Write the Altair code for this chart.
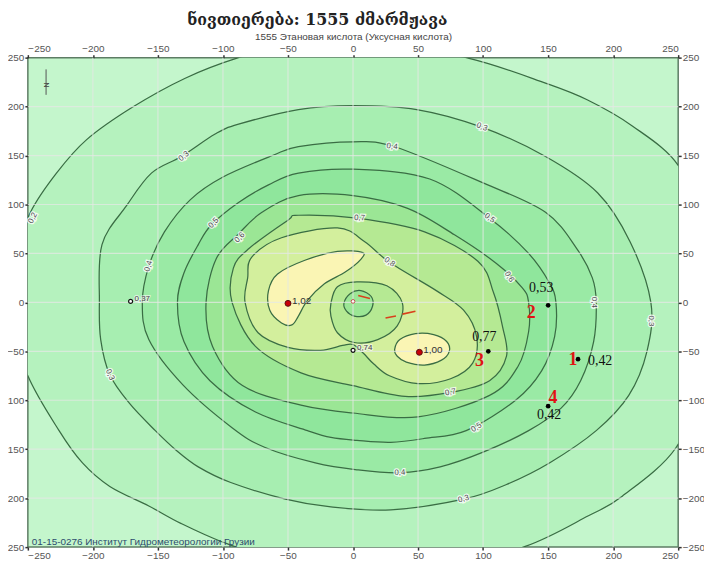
import altair as alt
import pandas as pd

# ---------------- data ----------------
TICKS = [-250, -200, -150, -100, -50, 0, 50, 100, 150, 200, 250]

# contour polylines (closed), data units
C02 = [(-50, 262), (-88, 250), (-129, 229), (-170, 199), (-205, 166), (-228, 132), (-248, 92),
       (-262, 40), (-265, -10), (-250, -75), (-226, -131), (-208, -164), (-187, -188), (-157, -208),
       (-132, -226), (-100, -245), (-60, -262), (0, -275), (70, -270), (133, -249), (181, -218),
       (207, -198), (248, -149), (268, -80), (272, 0), (265, 80), (250, 140), (215, 180),
       (180, 207), (148, 224), (90, 249), (20, 265)]
C03 = [(0, 201), (49, 197), (99, 179), (148, 149), (188, 112), (213, 62), (229, 0), (226, -50),
       (212, -95), (187, -131), (151, -164), (118, -186), (85, -201), (29, -212), (-17, -209),
       (-52, -201), (-94, -184), (-119, -168), (-136, -151), (-152, -131), (-172, -103),
       (-187, -74), (-194, -38), (-195, 0), (-193, 59), (-174, 99), (-155, 132), (-132, 149),
       (-106, 172), (-88, 182), (-42, 197)]
C04 = [(0, 164), (32, 159), (100, 122), (148, 92), (172, 55), (184, 25), (187, 0), (185, -40),
       (175, -80), (160, -108), (135, -131), (100, -153), (67, -168), (36, -174), (3, -171),
       (-29, -164), (-68, -148), (-93, -128), (-131, -84), (-157, -38), (-162, 0), (-157, 37),
       (-145, 72), (-125, 105), (-100, 128), (-62, 150), (-42, 159)]
C05 = [(0, 136), (59, 126), (105, 86), (135, 50), (151, 20), (156, 0), (155, -35), (145, -70),
       (125, -100), (87, -131), (55, -139), (29, -143), (3, -141), (-17, -138), (-35, -131),
       (-75, -112), (-110, -80), (-130, -40), (-135, 0), (-130, 30), (-119, 59), (-109, 79),
       (-88, 102), (-65, 120), (-42, 132)]
C06 = [(0, 109), (42, 96), (78, 69), (110, 40), (130, 15), (135, 0), (135, -30), (127, -65),
       (105, -95), (50, -117), (0, -113), (-40, -105), (-85, -85), (-108, -45), (-113, 0),
       (-105, 45), (-88, 70), (-70, 92), (-42, 109)]
C07 = [(3, 86), (55, 72), (96, 42), (108, 10), (115, -25), (118, -55), (105, -80), (75, -92),
       (40, -96), (0, -85), (-40, -72), (-75, -45), (-93, 0), (-92, 35), (-80, 55), (-50, 84),
       (-42, 89)]
C08 = [(-12, 76), (9, 62), (28, 41), (64, 12), (85, -8), (95, -35), (92, -62), (75, -78),
       (50, -83), (28, -75), (16, -63), (8, -52), (0, -43), (-8, -44), (-25, -49), (-50, -46),
       (-73, -31), (-83, 0), (-81, 25), (-78, 46), (-55, 66)]
C09A = [(7, 51), (-12, 52), (-37, 43), (-58, 29), (-65, 12), (-64, -8), (-55, -21), (-47, -23),
        (-42, -14), (-35, 2), (-22, 19), (-6, 31), (6, 44)]
C09B = [(32, -48), (36, -38), (48, -32), (62, -33), (72, -40), (74, -50), (68, -59), (55, -64),
        (41, -61), (34, -55)]
HOLE08 = [(-17, -1), (-12, 16), (3, 21), (26, 17), (38, -1), (34, -24), (19, -38), (1, -41),
          (-12, -31), (-17, -14)]
HOLE07 = [(-7, -1), (-2, 9), (6, 12), (14, 6), (15, -4), (10, -13), (1, -14), (-5, -9)]

# contour labels: text, x, y, angle
CL_TEXT = ["0,2", "0,3", "0,3", "0,4", "0,5", "0,6", "0,4", "0,3", "0,5", "0,7", "0,8",
           "0,6", "0,4", "0,3", "0,7", "0,5", "0,4", "0,3"]
CL_X = [-246, -130, -187, -157, -107, -87, 30, 99, 105, 5, 28, 120, 185, 229, 75, 95, 36, 85]
CL_Y = [86, 149, -74, 37, 81, 66, 159, 179, 86, 86, 41, 26, 0, -19, -92, -128, -174, -201]
CL_A = [297, 321, 66, 287, 313, 314, 7, 20, 37, 3, 35, 60, 90, 90, 349, 328, 358, 345]

# measurement points
PT_X = [150, 104, 173, 150]
PT_Y = [-3, -50, -58, -106]
PT_VAL = ["0,53", "0,77", "0,42", "0,42"]
PT_NUM = ["2", "3", "1", "4"]

PEAK_X = [-50, 51]
PEAK_Y = [-1, -51]
PEAK_VAL = ["1,02", "1,00"]

OPEN_X = [-171, 0]
OPEN_Y = [1, -49]
OPEN_VAL = ["0,37", "0,74"]

ORIGIN_X = [0]
ORIGIN_Y = [1]

# small red strokes near the centre
SEG_X = [4, 25, 38]
SEG_Y = [7, -16, -12]
SEG_X2 = [13, 33, 48]
SEG_Y2 = [4, -14, -9]

TITLE = "ნივთიერება: 1555  ძმარმჟავა"
SUBTITLE = "1555 Этановая кислота (Уксусная кислота)"
FOOTER = "01-15-0276 Институт Гидрометеорологии Грузии"

# ---------------- styling ----------------
BG = "#c4f6cc"
LINE = "#3a6d44"
POLYS = [
    (C02, "#b5f2be"),
    (C03, "#a7eeb1"),
    (C04, "#9aeaa5"),
    (C05, "#8fe69c"),
    (C06, "#9be695"),
    (C07, "#b5e993"),
    (C08, "#d3ef9d"),
    (C09A, "#faf5b4"),
    (C09B, "#faf5b4"),
    (HOLE08, "#b5e993"),
    (HOLE07, "#9be695"),
]

W, H = 655, 493
xs = alt.Scale(domain=[-250, 250], nice=False, zero=False)
ys = alt.Scale(domain=[-250, 250], nice=False, zero=False)


def X(f):
    return alt.X(f, type="quantitative", scale=xs, axis=None)


def Y(f):
    return alt.Y(f, type="quantitative", scale=ys, axis=None)


layers = []
for pts, col in POLYS:
    df = pd.DataFrame({"i": list(range(len(pts))),
                       "x": [p[0] for p in pts],
                       "y": [p[1] for p in pts]})
    layers.append(
        alt.Chart(df).mark_line(interpolate="cardinal-closed", fill=col, stroke=LINE,
                                strokeWidth=1.25, clip=True)
        .encode(x=X("x"), y=Y("y"), order=alt.Order("i:Q"))
    )

tick_df = pd.DataFrame({"t": TICKS})
inner_df = pd.DataFrame({"t": TICKS[1:-1]})
layers.append(alt.Chart(inner_df).mark_rule(color="#e4e8e4", strokeWidth=1.2, opacity=0.75)
              .encode(x=X("t")))
layers.append(alt.Chart(inner_df).mark_rule(color="#e4e8e4", strokeWidth=1.2, opacity=0.75)
              .encode(y=Y("t")))

# red strokes
seg_df = pd.DataFrame({"x": SEG_X, "y": SEG_Y, "x2": SEG_X2, "y2": SEG_Y2})
layers.append(alt.Chart(seg_df).mark_rule(color="#d9401c", strokeWidth=1.6)
              .encode(x=X("x"), y=Y("y"), x2="x2:Q", y2="y2:Q"))

# contour labels (halo + text)
cl_df = pd.DataFrame({"t": CL_TEXT, "x": CL_X, "y": CL_Y, "a": CL_A})
layers.append(alt.Chart(cl_df).mark_text(fontSize=8, font="Liberation Sans", color="white",
                                         stroke="white", strokeWidth=2.5, strokeOpacity=0.8)
              .encode(x=X("x"), y=Y("y"), text="t:N", angle=alt.Angle("a:Q", scale=None)))
layers.append(alt.Chart(cl_df).mark_text(fontSize=8, font="Liberation Sans", color="#4a4a4a")
              .encode(x=X("x"), y=Y("y"), text="t:N", angle=alt.Angle("a:Q", scale=None)))

# points
pt_df = pd.DataFrame({"x": PT_X, "y": PT_Y, "v": PT_VAL, "n": PT_NUM})
layers.append(alt.Chart(pt_df).mark_circle(color="black", size=22, opacity=1)
              .encode(x=X("x"), y=Y("y")))
pk_df = pd.DataFrame({"x": PEAK_X, "y": PEAK_Y, "v": PEAK_VAL})
layers.append(alt.Chart(pk_df).mark_point(filled=True, fill="#c8000a", stroke="#5a1010",
                                          strokeWidth=1, size=36, opacity=1)
              .encode(x=X("x"), y=Y("y")))
op_df = pd.DataFrame({"x": OPEN_X, "y": OPEN_Y, "v": OPEN_VAL})
layers.append(alt.Chart(op_df).mark_point(fill="white", stroke="#111", strokeWidth=1.2,
                                          size=16, opacity=1)
              .encode(x=X("x"), y=Y("y")))
org_df = pd.DataFrame({"x": ORIGIN_X, "y": ORIGIN_Y})
layers.append(alt.Chart(org_df).mark_point(fill="white", stroke="#c05050", strokeWidth=1,
                                           size=14, opacity=1)
              .encode(x=X("x"), y=Y("y")))

# value labels of measurement points
val_offsets = [(-7, -17, "center"), (-4, -14, "center"), (10, 2, "left"), (1, 9, "center")]
num_offsets = [(-17, 8), (-9, 10), (-5, 1), (5, -8)]
for k in range(len(PT_X)):
    one = pt_df.iloc[[k]]
    dx, dy, al = val_offsets[k]
    layers.append(alt.Chart(one).mark_text(font="Liberation Serif", fontSize=14, color="#111",
                                           dx=dx, dy=dy, align=al)
                  .encode(x=X("x"), y=Y("y"), text="v:N"))
    ndx, ndy = num_offsets[k]
    layers.append(alt.Chart(one).mark_text(font="Liberation Serif", fontSize=18,
                                           fontWeight="bold", color="#e01414",
                                           dx=ndx, dy=ndy)
                  .encode(x=X("x"), y=Y("y"), text="n:N"))

layers.append(alt.Chart(pk_df).mark_text(font="Liberation Sans", fontSize=10, color="#333",
                                         align="left", dx=4, dy=-2)
              .encode(x=X("x"), y=Y("y"), text="v:N"))
layers.append(alt.Chart(op_df).mark_text(font="Liberation Sans", fontSize=8, color="#555",
                                         align="left", dx=4, dy=-2, stroke="white",
                                         strokeWidth=2, strokeOpacity=0.6)
              .encode(x=X("x"), y=Y("y"), text="v:N"))
layers.append(alt.Chart(op_df).mark_text(font="Liberation Sans", fontSize=8, color="#555",
                                         align="left", dx=4, dy=-2)
              .encode(x=X("x"), y=Y("y"), text="v:N"))

# footer text inside the plot
layers.append(alt.Chart(pd.DataFrame({"x": [-250], "y": [-250], "t": [FOOTER]}))
              .mark_text(font="Liberation Sans", fontSize=10, color="#2d4c6e", align="left",
                         baseline="bottom", dx=4, dy=0)
              .encode(x=X("x"), y=Y("y"), text="t:N"))

# small north sign
layers.append(alt.Chart(pd.DataFrame({"x": [-236], "y": [238], "y2": [212]}))
              .mark_rule(color="#555", strokeWidth=1)
              .encode(x=X("x"), y=Y("y"), y2="y2:Q"))
layers.append(alt.Chart(pd.DataFrame({"x": [-236], "y": [222], "t": ["N"]}))
              .mark_text(font="Liberation Sans", fontSize=7, color="#444", angle=90)
              .encode(x=X("x"), y=Y("y"), text="t:N"))

# axes: bottom/left and top/right
ax_common = dict(values=TICKS, grid=False, domain=False, tickSize=3, tickColor="#333",
                 tickWidth=1.5, labelFontSize=10, labelColor="#555", labelFont="Liberation Sans")
layers.append(alt.Chart(tick_df).mark_point(opacity=0).encode(
    x=alt.X("t:Q", scale=xs, axis=alt.Axis(orient="bottom", title=None, labelPadding=0,
                                           **ax_common)),
    y=alt.Y("t:Q", scale=ys, axis=alt.Axis(
        orient="left", title=None, labelPadding=1,
        labelExpr="datum.value <= -100 ? '' + abs(datum.value) : datum.label", **ax_common)),
))
layers.append(alt.Chart(tick_df).mark_point(opacity=0).encode(
    x=alt.X("t:Q", scale=xs, axis=alt.Axis(orient="top", title=SUBTITLE, titleFontSize=10,
                                           titleFont="Liberation Sans", titleColor="#444",
                                           titleFontWeight="normal", titlePadding=2,
                                           labelPadding=1, **ax_common)),
    y=alt.Y("t:Q", scale=ys, axis=alt.Axis(orient="right", title=None, labelPadding=1,
                                           **ax_common)),
))

chart = (
    alt.layer(*layers)
    .resolve_axis(x="independent", y="independent")
    .properties(
        width=W, height=H,
        title=alt.TitleParams(text=TITLE, font="DejaVu Serif", fontSize=16, fontWeight="bold",
                              color="#222", anchor="middle", dx=-36, offset=4),
        autosize=alt.AutoSizeParams(type="none"),
        padding={"left": 20, "top": 48, "right": 26, "bottom": 13},
    )
    .configure_view(fill=BG, stroke="#5d7d64", strokeWidth=1.5)
)

chart.save("out.html", embed_options={"renderer": "svg", "actions": False})
